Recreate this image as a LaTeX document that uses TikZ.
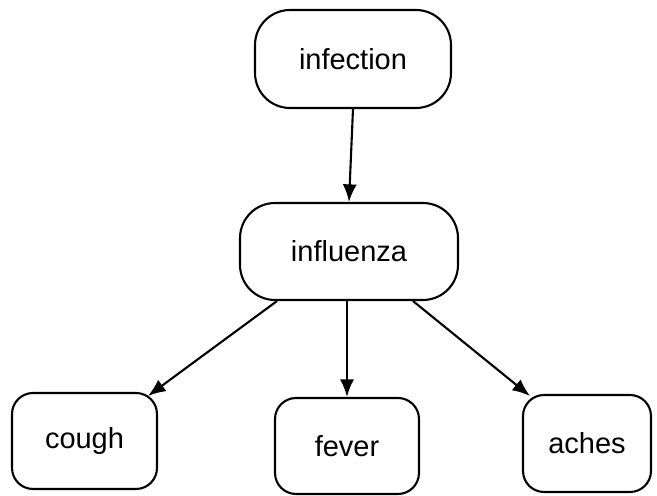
\documentclass[tikz,border=0pt]{standalone}
\usepackage{fontspec}
\setmainfont{Liberation Sans}
\usetikzlibrary{arrows.meta,calc}
\tikzset{
  conceptbig/.style={draw, line width=1.2pt, rounded corners=0.7cm, font=\fontsize{16.5}{19}\selectfont, inner sep=0pt},
  conceptsmall/.style={draw, line width=1.2pt, rounded corners=0.42cm, font=\fontsize{16.5}{19}\selectfont, inner sep=0pt},
  link/.style={line width=1.2pt, -{Latex[length=10pt,width=8pt]}}
}
\begin{document}
\begin{tikzpicture}[x=0.02cm,y=-0.02cm]
\useasboundingbox (0,0) rectangle (657,496);
\node[conceptbig, minimum width=3.92cm, minimum height=1.96cm] (infection) at (353,59) {infection};
\node[conceptbig, minimum width=4.36cm, minimum height=1.94cm] (influenza) at (349,251.5) {influenza};
\node[conceptsmall, minimum width=2.9cm, minimum height=1.92cm] (cough) at (84.5,441) {cough};
\node[conceptsmall, minimum width=2.88cm, minimum height=1.92cm] (fever) at (347,446) {fever};
\node[conceptsmall, minimum width=2.56cm, minimum height=1.94cm] (aches) at (587,443.5) {aches};
\draw[link] (infection.south) -- (influenza.north);
\draw[link] ($(influenza.south)+(-72,0)$) -- ($(cough.north east)+(-10,4)$);
\draw[link] (fever.north |- influenza.south) -- (fever.north);
\draw[link] ($(influenza.south)+(64,0)$) -- ($(aches.north west)+(8,2)$);
\end{tikzpicture}
\end{document}
